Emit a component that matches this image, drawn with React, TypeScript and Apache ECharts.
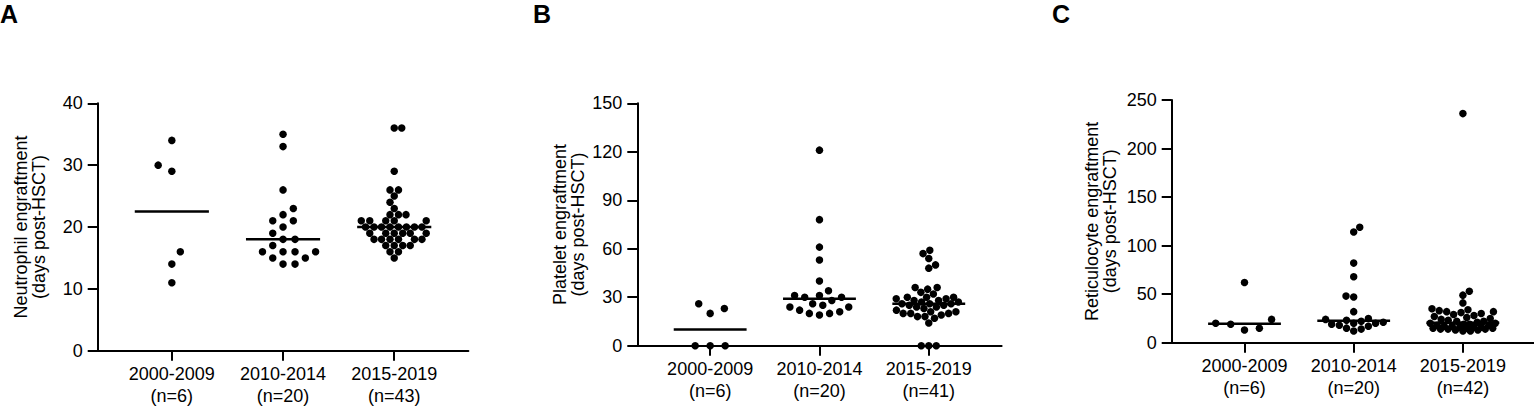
import React, { useEffect, useRef } from "react";
import * as echarts from "echarts";

// ---------- data ----------
const CATEGORIES = ["2000-2009", "2010-2014", "2015-2019"];

const NEUTRO_2000 = [34, 30, 29, 16, 14, 11];
const NEUTRO_2010 = [35, 33, 26, 23, 22, 21, 21, 20, 19, 18, 18, 17, 16, 16, 16, 16, 15, 15, 14, 14];
const NEUTRO_2015 = [
  36, 36, 29, 26, 26, 25, 24, 23, 22, 22, 22,
  21, 21, 21, 21, 21,
  20, 20, 20, 20, 20, 20, 20, 20,
  19, 19, 19, 19, 19, 19,
  18, 18, 18, 18, 18, 18,
  17, 17, 17, 17,
  16, 16, 15,
];

const PLATE_2000 = [23, 20, 26, 0, 0, 0];
const PLATE_2010 = [121, 78, 61, 53, 40, 34, 30, 31, 30, 31, 28, 24, 25, 24, 26, 20, 20, 22, 19, 21];
const PLATE_2015 = [
  59, 57, 54, 50, 48,
  36, 36, 35, 33, 32, 30, 30, 30, 29, 29, 28, 28, 27, 27, 26, 26, 26,
  25, 25, 24, 24, 23, 22, 21, 21, 20, 20, 20, 19, 18, 18, 17, 14,
  0, 0, 0,
];

const RETIC_2000 = [62, 24, 20, 19, 15, 13];
const RETIC_2010 = [119, 114, 82, 68, 48, 47, 32, 25, 24, 23, 22, 21, 20, 20, 19, 18, 17, 15, 14, 12];
const RETIC_2015 = [
  236, 53, 49, 41,
  35, 34, 33, 32, 32, 31, 30, 29, 28, 27, 26, 25, 24, 23, 22, 22, 21, 20, 20,
  19, 19, 18, 18, 17, 17, 16, 16, 16, 15, 15, 15, 14, 14, 14, 13, 13, 12, 12,
];

const Y_NAMES = [
  "Neutrophil engraftment\n(days post-HSCT)",
  "Platelet engraftment\n(days post-HSCT)",
  "Reticulocyte engraftment\n(days post-HSCT)",
];
const Y_MAX = [40, 150, 250];
const Y_INTERVAL = [10, 30, 50];
const PANEL_LETTERS = ["A", "B", "C"];

// ---------- layout / style ----------
const FONT = '"Liberation Sans", Arial, Helvetica, sans-serif';
const X_MIN = -2 / 3;
const X_MAX = 8 / 3;
const HALF_WIDTH = 1 / 3;
const DOT = 7.5;
const LAYOUT = [
  { left: 97.7, top: 103.3, height: 247.4, spacing: 111.2, letterX: 0, nameGap: 50 },
  { left: 637.3, top: 103.3, height: 242.4, spacing: 109.3, letterX: 533, nameGap: 50 },
  { left: 1171.7, top: 100, height: 242.7, spacing: 109.2, letterX: 1052, nameGap: 53 },
];

function median(arr: number[]): number {
  const s = [...arr].sort((a, b) => a - b);
  const n = s.length;
  return n % 2 ? s[(n - 1) / 2] : (s[n / 2 - 1] + s[n / 2]) / 2;
}

// beeswarm offsets (pixels) for a given collision distance, limited to the column width
function swarmWith(values: number[], pyu: number, cap: number, D: number, allowFallback: boolean) {
  const order = values.map((_, i) => i).sort((a, b) => values[a] - values[b]);
  const placed: { x: number; y: number }[] = [];
  const out = new Array(values.length).fill(0);
  let side = 1;
  for (const i of order) {
    const y = values[i] * pyu;
    const cands = [0];
    for (const p of placed) {
      const dy = Math.abs(p.y - y);
      if (dy < D) {
        const h = Math.sqrt(D * D - dy * dy);
        cands.push(p.x + h, p.x - h);
      }
    }
    const ok = cands.filter(
      (c) =>
        Math.abs(c) <= cap + 1e-6 &&
        placed.every((p) => (p.x - c) ** 2 + (p.y - y) ** 2 >= D * D - 1e-6)
    );
    let best: number;
    if (ok.length) {
      ok.sort((a, b) => Math.abs(a) - Math.abs(b) || side * (b - a));
      best = ok[0];
    } else {
      if (!allowFallback) return null;
      best = 0;
      let bestD = -1;
      for (let c = -cap; c <= cap + 1e-6; c += 0.5) {
        let md = Infinity;
        for (const p of placed) md = Math.min(md, Math.hypot(p.x - c, p.y - y));
        if (md > bestD + 1e-6 || (Math.abs(md - bestD) < 1e-6 && Math.abs(c) < Math.abs(best))) {
          bestD = md;
          best = c;
        }
      }
    }
    if (best !== 0) side = best > 0 ? -1 : 1;
    placed.push({ x: best, y });
    out[i] = best;
  }
  return out;
}

// widest spacing (up to two dot widths) that still fits inside the column
function swarm(values: number[], pyu: number, cap: number): number[] {
  for (let D = 2 * DOT; D >= DOT; D -= 0.25) {
    const r = swarmWith(values, pyu, cap, D, false);
    if (r) return r;
  }
  return swarmWith(values, pyu, cap, DOT, true) as number[];
}

function buildOption() {
  const groups = [
    [NEUTRO_2000, NEUTRO_2010, NEUTRO_2015],
    [PLATE_2000, PLATE_2010, PLATE_2015],
    [RETIC_2000, RETIC_2010, RETIC_2015],
  ];
  const grid: any[] = [];
  const xAxis: any[] = [];
  const yAxis: any[] = [];
  const series: any[] = [];
  const graphic: any[] = [];

  groups.forEach((panel, p) => {
    const L = LAYOUT[p];
    const width = L.spacing * (X_MAX - X_MIN);
    grid.push({ left: L.left, top: L.top, width, height: L.height, containLabel: false, outerBoundsMode: "none" });
    const counts = panel.map((g) => g.length);
    xAxis.push({
      gridIndex: p,
      type: "value",
      min: X_MIN,
      max: X_MAX,
      axisLine: { show: true, onZero: false, lineStyle: { color: "#000", width: 2 } },
      axisTick: { show: true, length: 10, customValues: [0, 1, 2], lineStyle: { color: "#000", width: 2 } },
      axisLabel: {
        show: true,
        customValues: [0, 1, 2],
        margin: 12,
        color: "#000",
        fontFamily: FONT,
        fontSize: 18,
        lineHeight: 22,
        formatter: (v: number) => {
          const k = Math.round(v);
          return `${CATEGORIES[k]}\n(n=${counts[k]})`;
        },
      },
      splitLine: { show: false },
    });
    yAxis.push({
      gridIndex: p,
      type: "value",
      min: 0,
      max: Y_MAX[p],
      interval: Y_INTERVAL[p],
      name: Y_NAMES[p],
      nameLocation: "middle",
      nameGap: L.nameGap,
      nameRotate: 90,
      nameTextStyle: { color: "#000", fontFamily: FONT, fontSize: 18, lineHeight: 18 },
      axisLine: { show: true, onZero: false, lineStyle: { color: "#000", width: 2 } },
      axisTick: { show: true, length: 10, lineStyle: { color: "#000", width: 2 } },
      axisLabel: { color: "#000", fontFamily: FONT, fontSize: 18, margin: 15 },
      splitLine: { show: false },
    });

    const pyu = L.height / Y_MAX[p];
    const pxu = L.spacing;
    const cap = HALF_WIDTH * pxu - DOT / 2;
    const pts: number[][] = [];
    panel.forEach((vals, k) => {
      const offs = swarm(vals, pyu, cap);
      vals.forEach((v, j) => pts.push([k + offs[j] / pxu, v]));
      const m = median(vals);
      series.push({
        type: "line",
        xAxisIndex: p,
        yAxisIndex: p,
        data: [
          [k - HALF_WIDTH, m],
          [k + HALF_WIDTH, m],
        ],
        symbol: "none",
        silent: true,
        lineStyle: { color: "#000", width: 2.5 },
        z: 3,
      });
    });
    series.push({
      type: "scatter",
      xAxisIndex: p,
      yAxisIndex: p,
      data: pts,
      symbol: "circle",
      symbolSize: DOT,
      itemStyle: { color: "#000", opacity: 1 },
      silent: true,
      z: 4,
    });

    graphic.push({
      type: "text",
      left: L.letterX,
      top: 1,
      style: { text: PANEL_LETTERS[p], font: `bold 25px ${FONT}`, fill: "#000" },
    });
  });

  return {
    animation: false,
    backgroundColor: "#fff",
    grid,
    xAxis,
    yAxis,
    series,
    graphic,
  };
}

export default function App() {
  const ref = useRef<HTMLDivElement>(null);
  useEffect(() => {
    if (!ref.current) return;
    const chart = echarts.init(ref.current, null, { renderer: "svg" });
    chart.setOption(buildOption() as any);
    return () => chart.dispose();
  }, []);
  return (
    <div
      ref={ref}
      style={{ position: "fixed", left: 0, top: 0, width: 1534, height: 409, background: "#fff" }}
    />
  );
}
